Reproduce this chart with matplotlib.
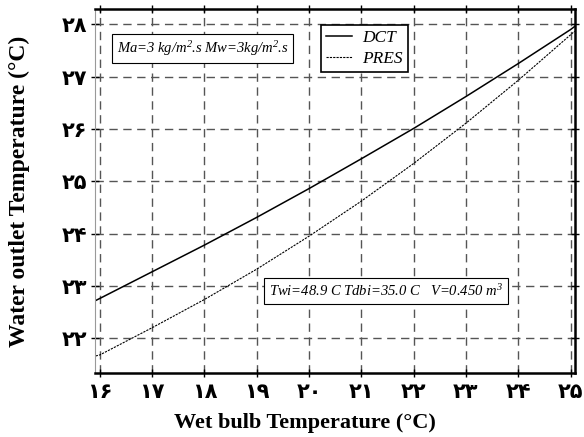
import numpy as np
import matplotlib
matplotlib.use("Agg")
import matplotlib.pyplot as plt

# Datos leídos: temperatura de bulbo húmedo vs temperatura de salida del agua
tbh = [15.92, 16, 17, 18, 19, 20, 21, 22, 23, 24, 25, 25.08]
t_dct = [22.72, 22.76, 23.27, 23.78, 24.31, 24.86, 25.43, 26.01, 26.62, 27.25, 27.90, 27.96]
t_pres = [21.66, 21.68, 22.20, 22.74, 23.32, 23.95, 24.62, 25.34, 26.11, 26.93, 27.80, 27.87]

ticks_x = list(range(16, 26))
ticks_y = list(range(22, 29))
digitos = "۰۱۲۳۴۵۶۷۸۹"


def persa(n):
    return "".join(digitos[int(c)] for c in str(n))


plt.rcParams["mathtext.fontset"] = "custom"
plt.rcParams["mathtext.rm"] = "Liberation Serif:italic"
plt.rcParams["mathtext.it"] = "Liberation Serif:italic"

fig = plt.figure(figsize=(5.84, 4.37), dpi=100)
ax = fig.add_axes([0.163, 0.146, 0.822, 0.833])

ax.plot(tbh, t_dct, color="black", lw=1.1, label="DCT")
ax.plot(tbh, t_pres, color="black", lw=0.8, ls=(0, (2, 1)), label="PRES")

ax.set_xlim(15.91, 25.09)
ax.set_ylim(21.33, 28.29)
ax.set_xticks(ticks_x)
ax.set_yticks(ticks_y)
ax.set_xticklabels([persa(v) for v in ticks_x], fontsize=15, fontweight="bold",
                   family=["DejaVu Sans"])
ax.set_yticklabels([persa(v) for v in ticks_y], fontsize=15, fontweight="bold",
                   family=["DejaVu Sans"])

ax.grid(True, color="#555555", ls=(0, (6, 4)), lw=1.0)
ax.tick_params(axis="both", direction="inout", length=6, width=1, pad=3,
               top=True, right=True)

for lado in ("top", "right", "bottom"):
    ax.spines[lado].set_linewidth(1.8)
ax.spines["left"].set_color("#999999")
ax.spines["left"].set_linewidth(0.8)

ax.set_xlabel("Wet bulb Temperature (°C)", fontsize=16, fontweight="bold",
              family="Liberation Serif")
ax.set_ylabel("Water outlet Temperature (°C)", fontsize=17, fontweight="bold",
              family="Liberation Serif")
ax.xaxis.set_label_coords(0.4375, -0.11)
ax.yaxis.set_label_coords(-0.135, 0.5)

leg = ax.legend(loc="upper left", bbox_to_anchor=(0.47, 0.957), frameon=True,
                fancybox=False, edgecolor="black", framealpha=1,
                prop={"family": "Liberation Serif", "style": "italic", "size": 12.5},
                handlelength=1.5, borderpad=0.3, labelspacing=0.25,
                handletextpad=0.6, borderaxespad=0)
leg.get_frame().set_linewidth(1.2)

caja = dict(boxstyle="square,pad=0.35", fc="white", ec="black", lw=0.8)
ax.text(0.045, 0.893, r"Ma=3 kg/m$^2$.s Mw=3kg/m$^2$.s", transform=ax.transAxes,
        fontsize=10.5, family="Liberation Serif", style="italic",
        va="center", ha="left", bbox=caja)
ax.text(0.362, 0.225, r"Twi=48.9 C Tdbi=35.0 C   V=0.450 m$^3$", transform=ax.transAxes,
        fontsize=10.5, family="Liberation Serif", style="italic",
        va="center", ha="left", bbox=caja)

fig.savefig("out.png", dpi=100)
